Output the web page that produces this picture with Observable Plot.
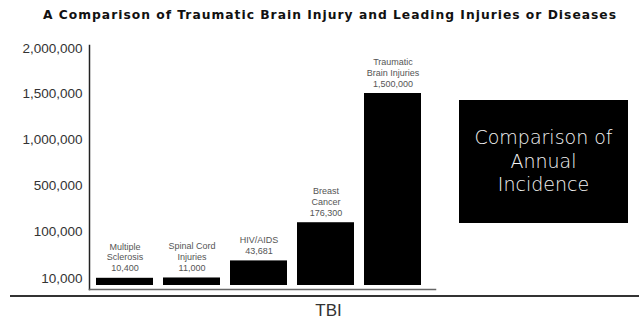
<!DOCTYPE html>
<html>
<head>
<meta charset="utf-8">
<script src="https://cdn.jsdelivr.net/npm/d3@7"></script>
<script src="https://cdn.jsdelivr.net/npm/@observablehq/plot@0.6"></script>
<style>
  body { margin: 0; background: #fff; }
  #wrap { position: relative; width: 639px; height: 323px; overflow: hidden; background: #fff; }
  #title {
    position: absolute; left: 0; top: 8px; width: 660px; text-align: center;
    font-family: "DejaVu Sans", sans-serif; font-weight: bold; font-size: 12.3px;
    letter-spacing: 1px; color: #111; white-space: nowrap;
  }
  #chart { position: absolute; left: 0; top: 32px; }
  #note {
    position: absolute; left: 459px; top: 100px; width: 169px; height: 123px;
    background: #000; color: #f4f4f4; display: flex; align-items: center; justify-content: center;
    text-align: center; font-family: "DejaVu Sans", sans-serif; font-weight: 200;
    font-size: 19px; line-height: 23.5px;
  }
  #caption {
    position: absolute; left: 10px; top: 295px; width: 629px; height: 28px;
    border-top: 2px solid #333; text-align: center; padding-left: 8px; box-sizing: border-box;
    font-family: "Liberation Sans Narrow", "Liberation Sans", sans-serif; font-size: 17px;
    line-height: 28px; color: #333;
  }
</style>
</head>
<body>
<div id="wrap">
  <div id="title">A Comparison of Traumatic Brain Injury and Leading Injuries or Diseases</div>
  <div id="chart"></div>
  <div id="note"><div>Comparison of<br>Annual<br>Incidence</div></div>
  <div id="caption">TBI</div>
</div>
<script>
// Annual incidence by condition
const categories = ["Multiple Sclerosis", "Spinal Cord Injuries", "HIV/AIDS", "Breast Cancer", "Traumatic Brain Injuries"];
const labelLines = ["Multiple\nSclerosis", "Spinal Cord\nInjuries", "HIV/AIDS", "Breast\nCancer", "Traumatic\nBrain Injuries"];
const incidence = [10400, 11000, 43681, 176300, 1500000];
// Tick values on the vertical axis (evenly spaced, so the scale is piecewise)
const yTicks = [10000, 100000, 500000, 1000000, 1500000, 2000000];

const fmt = d3.format(",");
const rows = categories.map((c, i) => ({
  category: c,
  value: incidence[i],
  label: labelLines[i] + "\n" + fmt(incidence[i])
}));

const chart = Plot.plot({
  width: 639,
  height: 264,
  marginLeft: 89,
  marginRight: 204,
  marginTop: 13,
  marginBottom: 7,
  style: { fontFamily: "Liberation Sans, Arial, sans-serif", color: "#333", background: "transparent", overflow: "visible" },
  x: { domain: categories, paddingInner: 0.146, paddingOuter: 0.143, align: 0.35, axis: null },
  y: {
    type: "linear",
    domain: [0, ...yTicks],
    range: [253, 246, 199, 153, 107, 61, 16.5],
    axis: null
  },
  marks: [
    Plot.barY(rows, { x: "category", y: "value", fill: "#000" }),
    Plot.text(rows, {
      x: "category", y: "value", text: "label",
      lineAnchor: "bottom", lineHeight: 1.2, dy: -7,
      fontSize: 9, fill: "#555"
    }),
    Plot.axisY(yTicks, { tickSize: 0, tickPadding: 7, tickFormat: fmt, fontSize: 13.5, label: null }),
    Plot.frame({ anchor: "left", stroke: "#222", strokeWidth: 1.5 }),
    Plot.frame({ anchor: "bottom", stroke: "#666", strokeWidth: 1.5 })
  ]
});
document.getElementById("chart").appendChild(chart);
</script>
</body>
</html>
